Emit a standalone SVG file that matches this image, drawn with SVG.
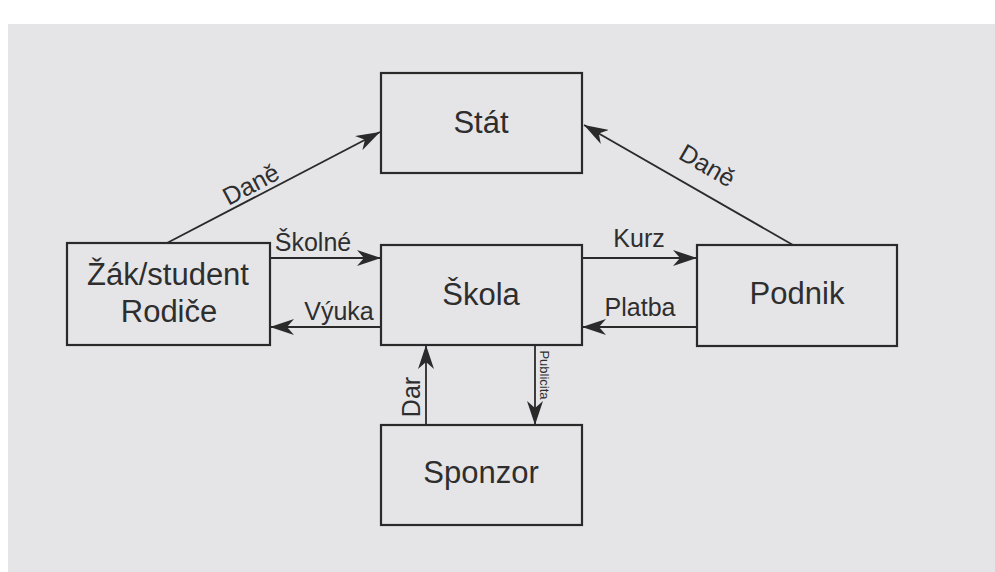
<svg xmlns="http://www.w3.org/2000/svg" width="995" height="572" viewBox="0 0 995 572">
<defs>
<style>
.box{fill:none;stroke:#2a2a2a;stroke-width:2.2}
.ln{fill:none;stroke:#2a2a2a;stroke-width:1.8}
.t{font-family:"Liberation Sans",Arial,sans-serif;fill:#2e2e2e}
.n{font-size:31px}
.l{font-size:25px}
</style>
<marker id="ah" markerUnits="userSpaceOnUse" markerWidth="26" markerHeight="16" viewBox="0 0 26 16" refX="24" refY="8" orient="auto">
<path d="M0,0 L24,8 L0,16 L7,8 z" fill="#2a2a2a"/>
</marker>
</defs>
<rect x="0" y="0" width="995" height="572" fill="#ffffff"/>
<rect x="8" y="24" width="987" height="548" fill="#e5e5e8"/>

<g id="stat"><rect class="box" x="381" y="73" width="201" height="100"/><text class="t n" x="481" y="133" text-anchor="middle">Stát</text></g>
<g id="zak"><rect class="box" x="67" y="243" width="203" height="102"/><text class="t n" x="168" y="285" text-anchor="middle">Žák/student</text><text class="t n" x="169" y="322" text-anchor="middle">Rodiče</text></g>
<g id="skola"><rect class="box" x="381" y="245" width="201" height="100"/><text class="t n" x="481" y="305" text-anchor="middle">Škola</text></g>
<g id="podnik"><rect class="box" x="697" y="245" width="200" height="101"/><text class="t n" x="797" y="304" text-anchor="middle">Podnik</text></g>
<g id="sponzor"><rect class="box" x="381" y="425" width="201" height="100"/><text class="t n" x="481" y="483" text-anchor="middle">Sponzor</text></g>

<g id="connectors">
<line class="ln" x1="167" y1="243" x2="380" y2="132" marker-end="url(#ah)"/>
<line class="ln" x1="793" y1="245" x2="584" y2="125" marker-end="url(#ah)"/>
<line class="ln" x1="270" y1="258" x2="381" y2="258" marker-end="url(#ah)"/>
<line class="ln" x1="582" y1="258" x2="697" y2="258" marker-end="url(#ah)"/>
<line class="ln" x1="381" y1="327" x2="270" y2="327" marker-end="url(#ah)"/>
<line class="ln" x1="697" y1="327" x2="582" y2="327" marker-end="url(#ah)"/>
<line class="ln" x1="426" y1="425" x2="426" y2="345" marker-end="url(#ah)"/>
<line class="ln" x1="535" y1="345" x2="535" y2="425" marker-end="url(#ah)"/>
<text class="t l" transform="translate(255,192) rotate(-28)" text-anchor="middle">Daně</text>
<text class="t l" transform="translate(703,173) rotate(30)" text-anchor="middle">Daně</text>
<text class="t l" x="313" y="251" text-anchor="middle">Školné</text>
<text class="t l" x="639" y="247" text-anchor="middle">Kurz</text>
<text class="t l" x="339" y="320" text-anchor="middle">Výuka</text>
<text class="t l" x="640" y="316" text-anchor="middle">Platba</text>
<text class="t l" transform="translate(420,397) rotate(-90)" text-anchor="middle">Dar</text>
<text class="t" font-size="13" transform="translate(540,375) rotate(90)" text-anchor="middle">Publicita</text>
</g>
</svg>
